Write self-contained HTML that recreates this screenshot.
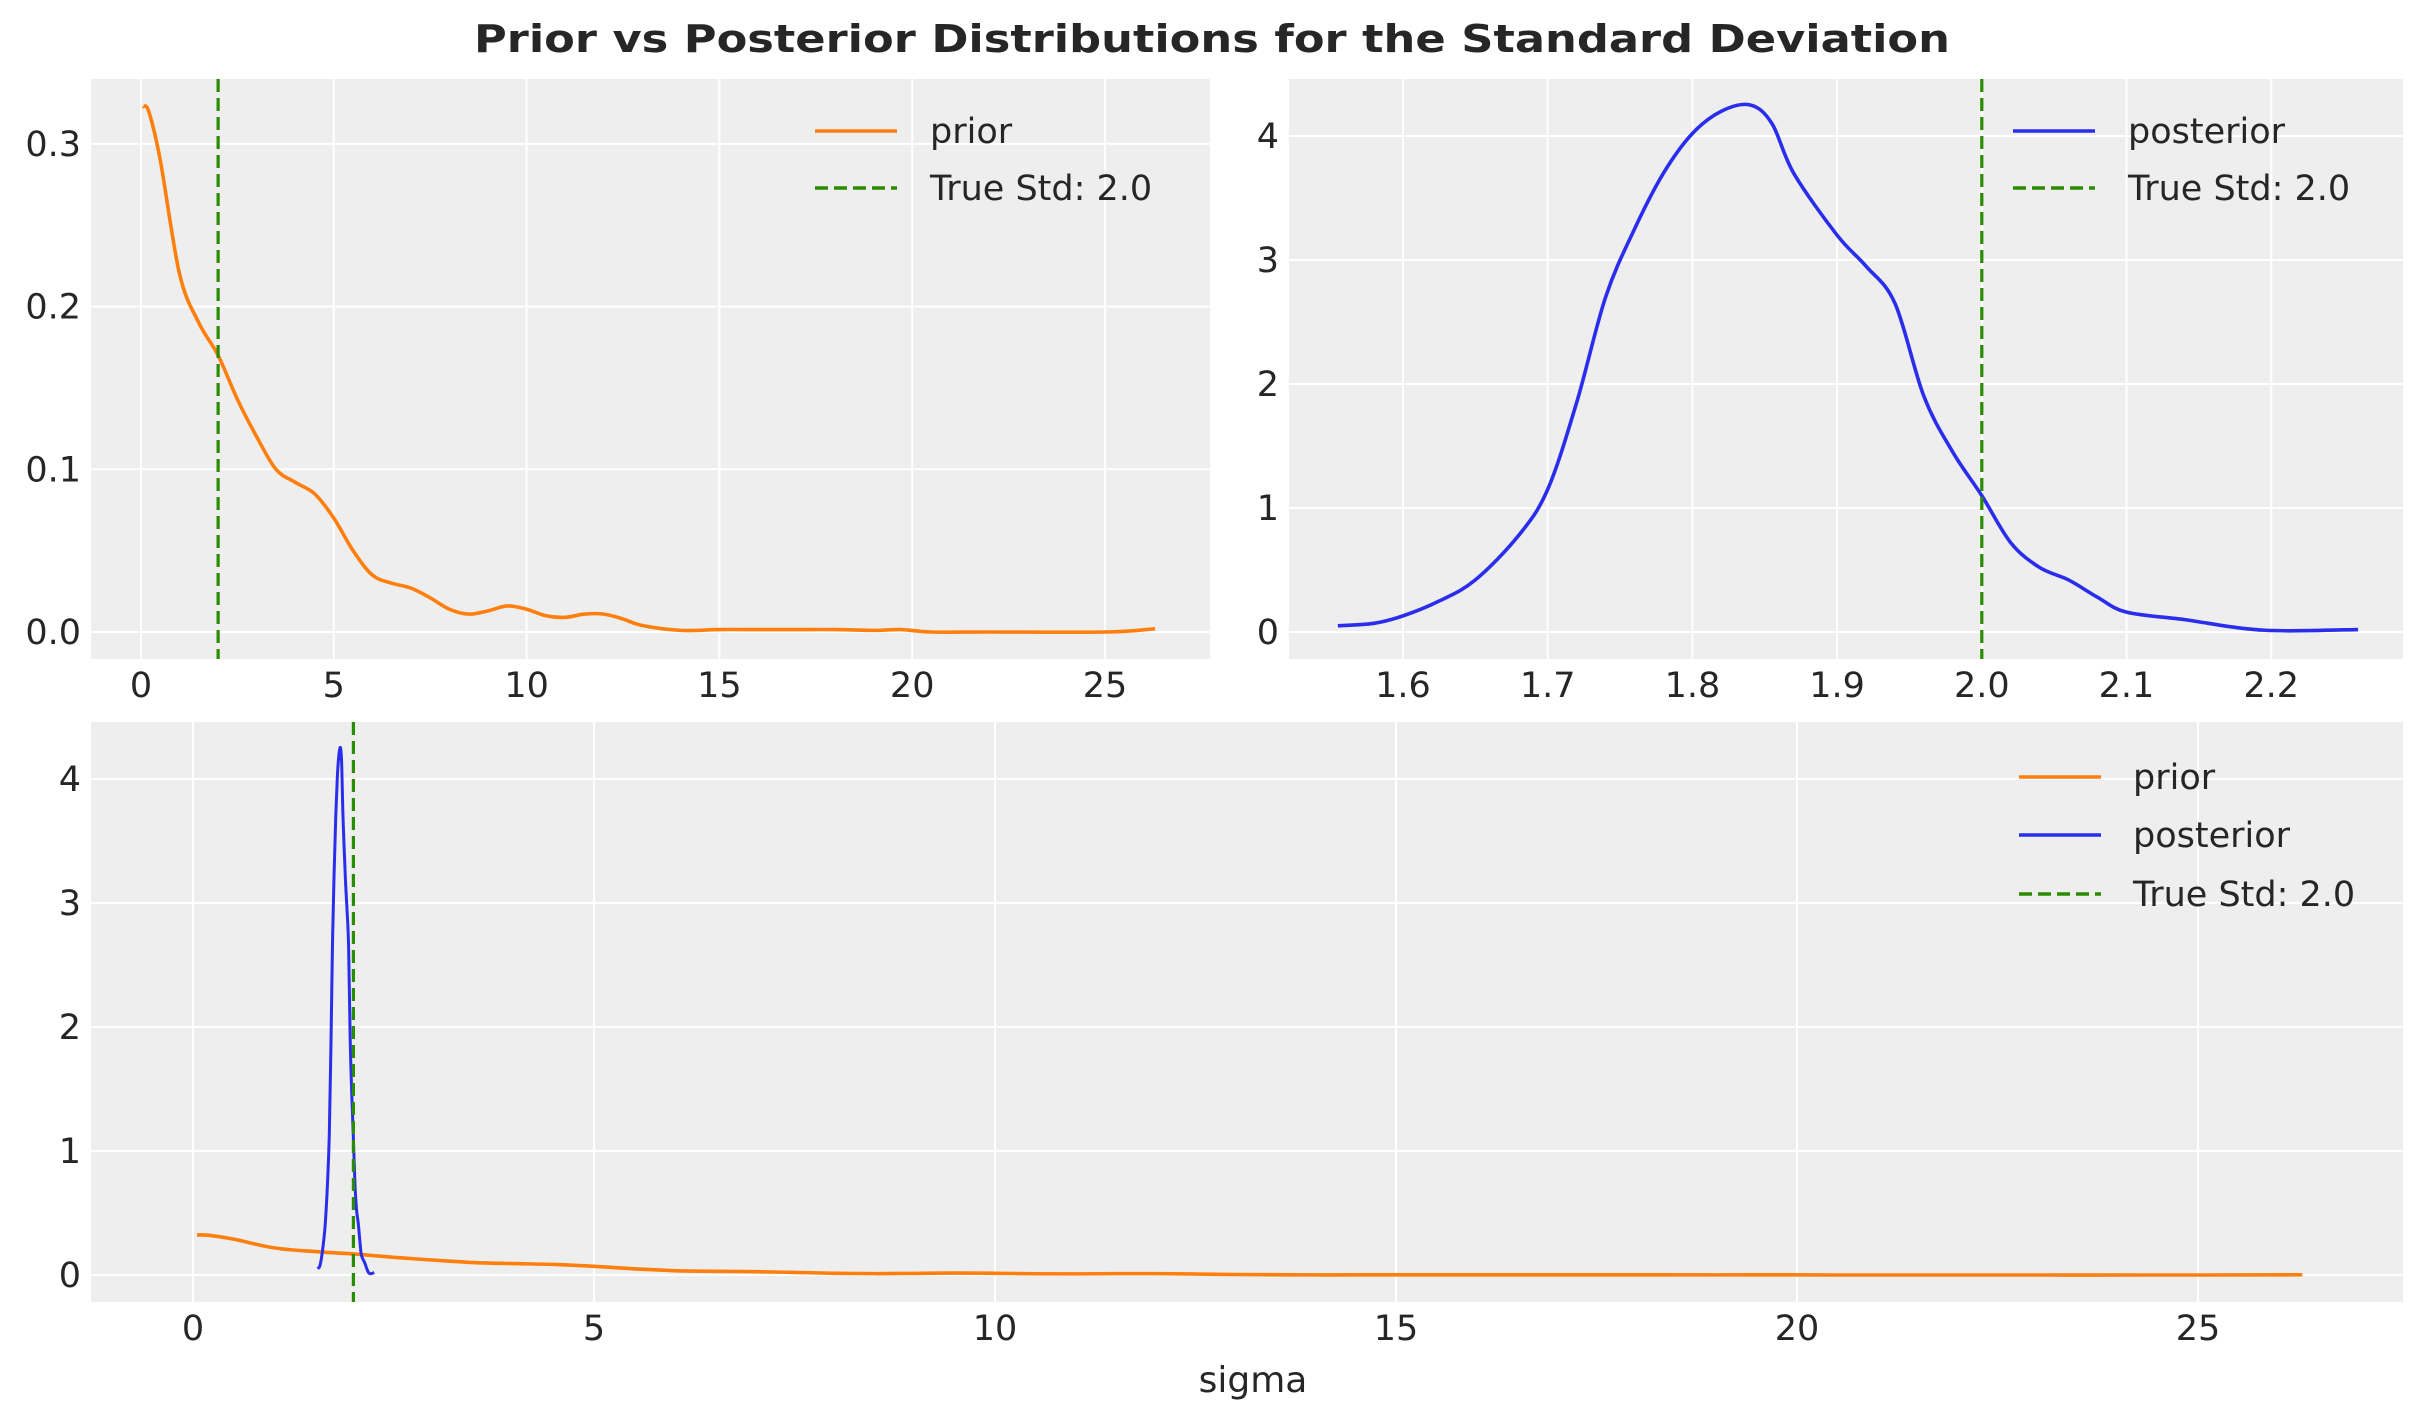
<!DOCTYPE html>
<html><head><meta charset="utf-8"><style>
html,body{margin:0;padding:0;background:#fff;}
svg{display:block;font-family:"DejaVu Sans","Liberation Sans",sans-serif;}
text{fill:#262626;}
</style></head><body>
<svg id="s" width="2423" height="1423" viewBox="0 0 2423 1423" xmlns="http://www.w3.org/2000/svg">
<text x="1212" y="52" text-anchor="middle" font-size="38" font-weight="bold" textLength="1476" lengthAdjust="spacingAndGlyphs">Prior vs Posterior Distributions for the Standard Deviation</text>
<g id="g"></g>
<text x="1253" y="1392" text-anchor="middle" font-size="36">sigma</text>
</svg>
<script>
var prior=[[0.05,0.323],[0.2,0.32],[0.5,0.29],[1,0.22],[1.5,0.19],[2,0.17],[2.5,0.143],[3,0.12],[3.5,0.10],[4,0.092],[4.5,0.085],[5,0.07],[5.5,0.05],[6,0.035],[6.5,0.03],[7,0.027],[7.5,0.021],[8,0.014],[8.5,0.011],[9,0.013],[9.5,0.016],[10,0.014],[10.5,0.01],[11,0.009],[11.5,0.011],[12,0.011],[12.5,0.008],[13,0.004],[14,0.001],[15,0.0015],[16,0.0015],[17,0.0015],[18,0.0015],[19,0.001],[19.7,0.0015],[20.5,0.0],[22,0],[25,0],[26.3,0.002]];
var post=[[1.555,0.05],[1.58,0.07],[1.6,0.13],[1.625,0.25],[1.65,0.42],[1.68,0.78],[1.7,1.15],[1.72,1.85],[1.74,2.7],[1.76,3.25],[1.78,3.7],[1.8,4.02],[1.82,4.2],[1.84,4.25],[1.855,4.1],[1.87,3.7],[1.9,3.2],[1.92,2.95],[1.94,2.65],[1.96,1.9],[1.98,1.45],[2.0,1.1],[2.02,0.72],[2.04,0.52],[2.06,0.42],[2.08,0.28],[2.1,0.16],[2.14,0.1],[2.18,0.03],[2.21,0.01],[2.26,0.02]];
var G=document.getElementById('g'),NS="http://www.w3.org/2000/svg";
var FS=35,DASH='13,6',GC='#2a8c00';
function el(t,a,txt){var e=document.createElementNS(NS,t);for(var k in a)e.setAttribute(k,a[k]);if(txt!=null)e.textContent=txt;G.appendChild(e);return e;}
function path(pts,fx,fy){var p=pts.map(function(q){return [fx(q[0]),fy(q[1])];});var d="M"+p[0][0]+","+p[0][1];
for(var i=0;i<p.length-1;i++){var p0=p[i-1]||p[i],p1=p[i],p2=p[i+1],p3=p[i+2]||p2;
d+=" C"+(p1[0]+(p2[0]-p0[0])/6)+","+(p1[1]+(p2[1]-p0[1])/6)+" "+(p2[0]-(p3[0]-p1[0])/6)+","+(p2[1]-(p3[1]-p1[1])/6)+" "+p2[0]+","+p2[1];}return d;}
function panel(o){
el('rect',{x:o.x0,y:o.y0,width:o.x1-o.x0,height:o.y1-o.y0,fill:'#eeeeee'});
o.xt.forEach(function(t){var x=o.fx(t[0]);el('line',{x1:x,x2:x,y1:o.y0,y2:o.y1,stroke:'#fff','stroke-width':2});
el('text',{x:x,y:o.y1+38,'text-anchor':'middle','font-size':FS},t[1]);});
o.yt.forEach(function(t){var y=o.fy(t[0]);el('line',{x1:o.x0,x2:o.x1,y1:y,y2:y,stroke:'#fff','stroke-width':2});
el('text',{x:o.x0-10,y:y+12,'text-anchor':'end','font-size':FS},t[1]);});
}
function leg(x1,x2,tx,y,col,dash,txt){var a={x1:x1,x2:x2,y1:y,y2:y,stroke:col,'stroke-width':3.6};if(dash)a['stroke-dasharray']=DASH;el('line',a);
el('text',{x:tx,y:y+12,'font-size':FS},txt);}
var a={x0:91,x1:1210,y0:79,y1:659,fx:function(v){return 141+v*38.56;},fy:function(v){return 632-v*1627;},
xt:[[0,'0'],[5,'5'],[10,'10'],[15,'15'],[20,'20'],[25,'25']],yt:[[0,'0.0'],[0.1,'0.1'],[0.2,'0.2'],[0.3,'0.3']]};
panel(a);
el('path',{d:path(prior,a.fx,a.fy),fill:'none',stroke:'#ff7f0e','stroke-width':3.6});
el('line',{x1:a.fx(2),x2:a.fx(2),y1:79,y2:659,stroke:GC,'stroke-width':3.2,'stroke-dasharray':DASH});
leg(815,897,930,131,'#ff7f0e',false,'prior');
leg(815,897,930,188,GC,true,'True Std: 2.0');
var b={x0:1289,x1:2403,y0:79,y1:659,fx:function(v){return 1403+(v-1.6)*1447;},fy:function(v){return 632-v*124;},
xt:[[1.6,'1.6'],[1.7,'1.7'],[1.8,'1.8'],[1.9,'1.9'],[2.0,'2.0'],[2.1,'2.1'],[2.2,'2.2']],yt:[[0,'0'],[1,'1'],[2,'2'],[3,'3'],[4,'4']]};
panel(b);
el('path',{d:path(post,b.fx,b.fy),fill:'none',stroke:'#2a2eec','stroke-width':3.6});
el('line',{x1:b.fx(2),x2:b.fx(2),y1:79,y2:659,stroke:GC,'stroke-width':3.2,'stroke-dasharray':DASH});
leg(2013,2095,2128,131,'#2a2eec',false,'posterior');
leg(2013,2095,2128,188,GC,true,'True Std: 2.0');
var c={x0:91,x1:2403,y0:722,y1:1302,fx:function(v){return 193+v*80.2;},fy:function(v){return 1275-v*124;},
xt:[[0,'0'],[5,'5'],[10,'10'],[15,'15'],[20,'20'],[25,'25']],yt:[[0,'0'],[1,'1'],[2,'2'],[3,'3'],[4,'4']]};
panel(c);
el('path',{d:path(prior,c.fx,c.fy),fill:'none',stroke:'#ff7f0e','stroke-width':3.6});
el('path',{d:path(post,c.fx,c.fy),fill:'none',stroke:'#2a2eec','stroke-width':3});
el('line',{x1:c.fx(2),x2:c.fx(2),y1:722,y2:1302,stroke:GC,'stroke-width':3.2,'stroke-dasharray':DASH});
leg(2019,2101,2133,777,'#ff7f0e',false,'prior');
leg(2019,2101,2133,835,'#2a2eec',false,'posterior');
leg(2019,2101,2133,894,GC,true,'True Std: 2.0');
</script>
</body></html>
